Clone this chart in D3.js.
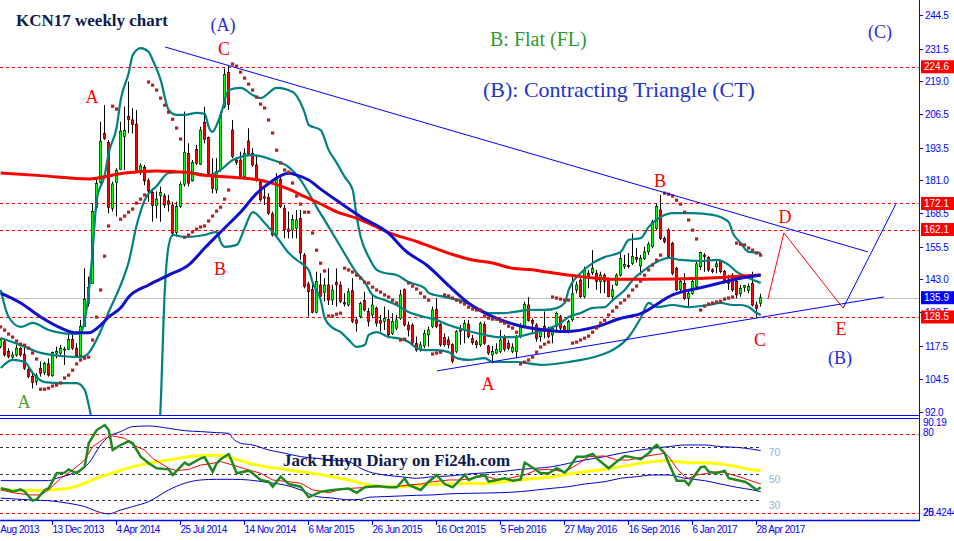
<!DOCTYPE html>
<html><head><meta charset="utf-8">
<script src="https://cdn.jsdelivr.net/npm/d3@7"></script>
<style>body{margin:0;background:#fff;}svg{display:block;}</style>
</head><body>
<svg id="c" width="954" height="541"></svg>
<script>
// ---------- DATA ----------
const opens=[117.1,119.0,115.2,113.0,113.9,116.5,114.2,108.4,105.6,103.7,
108.8,107.2,110.5,105.9,114.6,114.6,116.0,116.1,119.9,116.5,
113.6,124.8,133.8,141.4,170.6,180.1,199.0,195.5,170.2,180.1,
185.2,197.8,205.5,204.2,202.6,184.3,186.0,180.8,176.4,171.3,
175.1,175.0,173.1,171.5,160.9,170.9,179.5,191.3,180.8,192.9,
187.2,203.3,197.4,182.4,177.3,185.0,209.3,222.5,200.3,188.8,
188.8,182.4,196.1,191.4,186.9,180.2,174.7,174.5,168.1,160.0,
181.4,170.3,162.3,161.9,162.6,166.4,152.3,141.2,139.1,130.3,
140.8,137.9,140.8,135.0,141.7,140.8,134.0,133.1,138.6,127.4,
128.6,134.8,130.6,129.3,131.9,127.1,126.7,127.6,122.2,124.2,
128.0,139.1,125.4,125.4,118.4,116.1,117.4,121.6,124.8,131.5,
125.7,120.6,119.7,118.0,115.2,123.5,123.5,125.8,120.3,119.0,
117.8,125.7,117.4,113.9,114.6,115.2,120.3,118.4,115.2,115.2,
121.0,124.8,133.1,127.1,125.4,120.9,124.8,123.5,121.6,124.8,
128.6,124.8,122.9,127.4,138.9,142.7,136.3,145.3,145.5,145.3,
142.1,144.6,143.0,136.3,140.8,144.6,147.9,148.3,149.1,151.4,
148.1,151.0,153.5,155.5,162.6,169.6,158.7,161.9,156.8,147.2,
139.1,141.4,135.7,137.6,140.2,147.8,152.3,151.4,146.6,147.8,
149.8,145.9,142.7,144.6,142.1,137.6,139.9,138.6,141.4,133.1,
133.8];
const highs=[120.3,120.3,116.5,115.2,117.8,117.1,117.1,109.4,106.9,106.9,
111.4,111.4,112.6,115.2,117.1,117.8,117.1,122.2,121.6,118.4,
127.4,147.2,144.0,172.2,181.8,203.5,209.9,196.5,180.5,185.6,
203.5,209.3,218.9,208.7,208.0,187.5,186.9,181.8,177.9,176.7,
178.6,176.0,175.4,172.8,172.8,180.5,207.4,195.2,188.8,194.6,
201.6,209.3,197.8,189.5,189.5,207.4,224.0,225.0,204.2,189.5,
192.0,193.3,201.0,193.3,190.7,181.1,177.9,176.0,169.0,183.7,
183.0,171.5,169.0,167.7,169.6,169.6,153.0,142.1,142.1,145.9,
145.3,143.4,147.2,140.8,147.2,142.1,137.6,139.5,143.4,128.6,
134.4,138.2,131.9,137.0,132.5,129.3,132.5,131.2,129.9,129.3,
138.9,139.5,126.7,126.1,121.0,119.0,123.5,124.8,132.5,135.7,
126.1,122.2,121.0,118.4,123.5,125.4,127.4,127.4,121.6,119.7,
126.7,126.7,117.8,117.4,118.4,123.5,121.6,119.7,118.4,121.6,
126.1,134.4,136.1,128.0,126.1,123.5,130.6,124.8,125.1,130.6,
129.3,125.4,127.4,144.6,142.1,143.4,147.8,146.6,154.2,146.6,
145.9,145.3,143.7,140.8,145.3,153.0,152.3,153.0,160.6,154.9,
152.3,155.5,157.4,165.8,172.2,175.4,159.4,162.6,157.4,147.8,
142.7,145.3,138.9,143.4,149.8,153.6,153.0,151.9,147.2,150.4,
150.4,146.6,144.6,145.3,142.7,140.8,140.8,141.4,145.9,134.4,
137.4];
const lows=[116.5,113.3,112.6,112.4,113.3,113.3,108.2,105.0,101.1,102.4,
105.6,106.2,105.6,105.6,112.6,113.3,110.1,115.8,115.8,113.0,
112.6,124.8,132.5,141.4,169.6,179.8,196.5,168.3,169.0,167.1,
185.0,185.0,199.1,199.0,183.7,183.1,179.2,172.8,165.1,166.4,
165.1,170.3,169.0,159.4,159.4,170.3,178.6,178.6,180.5,186.9,
186.9,195.2,183.1,176.0,176.0,184.3,208.7,208.0,189.5,186.9,
181.8,181.8,190.7,186.2,180.5,172.8,171.5,167.7,159.4,159.4,
170.3,158.7,158.7,158.7,158.7,150.4,139.5,128.6,129.9,129.9,
134.4,134.4,133.1,133.1,132.5,133.8,132.5,132.5,126.1,122.9,
128.0,130.6,124.8,128.0,124.8,122.9,123.5,120.3,121.6,123.5,
127.4,124.8,121.0,117.8,115.2,115.2,116.5,117.1,124.2,124.2,
117.1,117.1,116.5,110.7,114.6,117.8,118.4,120.3,117.8,116.5,
117.1,117.8,113.9,110.7,114.3,114.6,115.2,115.8,114.6,112.6,
120.3,124.2,126.7,122.2,119.0,119.0,120.3,120.3,118.4,123.5,
123.5,122.9,122.2,126.7,137.6,135.7,135.7,139.5,144.6,138.9,
137.6,137.6,136.1,134.4,140.4,144.0,146.9,147.2,148.5,149.4,
144.6,150.4,152.3,154.9,162.0,158.1,156.8,151.0,144.6,138.5,
138.2,135.0,132.5,137.0,139.5,146.6,145.9,145.9,145.3,145.3,
145.3,141.4,138.9,138.2,135.7,136.3,138.2,137.6,132.5,128.6,
132.5];
const closes=[119.7,113.9,113.3,113.9,116.5,113.9,108.8,105.6,103.3,105.9,
106.9,110.7,106.2,114.8,115.2,116.5,116.2,119.9,116.5,113.6,
124.8,135.3,139.9,169.0,179.8,196.0,197.1,170.6,179.6,184.7,
199.9,200.1,204.4,202.5,184.3,186.5,180.8,176.9,171.3,173.8,
176.3,171.5,171.8,160.7,170.9,179.5,191.8,179.9,187.9,187.5,
200.3,196.8,183.7,177.9,184.3,206.1,221.7,210.2,190.1,187.9,
182.4,191.4,191.0,186.9,181.8,173.5,174.1,168.3,160.0,181.8,
170.9,161.9,161.3,166.0,165.8,153.0,140.2,138.2,130.3,142.1,
136.3,140.8,135.0,138.9,140.8,134.4,133.5,138.2,126.7,126.1,
133.7,131.2,126.7,133.1,126.1,126.1,128.0,121.6,126.7,127.4,
137.0,125.4,123.5,118.4,115.8,117.8,122.2,123.5,131.2,124.8,
117.8,117.8,117.8,111.4,122.9,123.0,126.1,120.9,118.6,117.8,
126.1,118.4,114.6,115.2,116.1,119.7,116.1,116.5,116.9,120.7,
124.8,133.4,127.1,126.1,120.3,122.9,122.9,121.0,124.2,129.9,
124.2,123.5,126.7,137.4,140.8,136.3,146.3,143.7,147.2,142.1,
144.6,142.1,136.3,138.9,144.6,151.0,148.6,148.0,151.7,150.7,
151.0,153.5,156.5,165.1,170.9,158.7,157.4,151.7,145.3,138.9,
142.1,135.7,137.6,142.1,148.9,153.2,151.7,146.6,145.9,148.9,
145.9,142.1,141.4,138.9,137.0,139.5,140.6,140.2,133.1,131.8,
135.9];
const sar=[124.7,123.5,122.0,120.8,119.3,118.1,117.7,116.6,114.7,112.4,
100.8,100.8,101.2,102.0,102.4,103.2,105.1,106.2,108.1,110.5,
112.0,112.7,113.1,119.7,128.5,138.9,151.9,163.5,209.5,208.4,
166.1,167.3,168.8,170.0,172.3,173.8,175.4,218.8,217.6,215.7,
212.6,209.9,207.2,204.5,201.1,196.9,159.2,160.0,161.2,162.3,
163.1,163.5,165.4,167.3,169.2,170.7,173.8,177.3,225.7,224.9,
222.6,220.3,218.0,215.7,213.0,210.3,208.8,204.2,199.2,192.6,
187.7,185.0,184.2,180.0,175.0,171.9,168.8,168.8,160.8,154.2,
149.2,146.2,128.9,128.9,129.6,130.0,147.3,146.6,145.8,144.6,
143.5,141.9,141.6,140.0,138.9,138.1,137.0,136.2,135.0,133.9,
119.7,120.0,141.6,140.4,139.3,137.7,136.2,135.0,114.3,114.7,
115.0,137.0,136.6,135.8,135.0,134.3,133.5,132.3,131.6,131.2,
131.2,128.9,128.1,127.7,127.7,126.9,126.2,125.0,124.3,122.7,
110.5,111.2,112.0,113.1,115.0,117.0,118.1,118.9,136.2,135.8,
135.4,135.0,135.0,118.5,118.9,119.7,120.4,121.2,122.7,124.3,
126.2,127.3,129.3,130.8,132.3,133.9,135.0,136.6,138.9,140.4,
142.3,144.6,146.6,148.5,150.4,152.3,176.1,175.7,175.0,173.4,
171.9,168.8,165.8,161.9,158.5,131.2,132.7,133.5,133.9,134.3,
134.6,135.4,135.8,136.2,156.9,156.5,156.2,155.0,154.2,153.1,
152.3];
// moving averages  [week index, price]
const maRed=[[0,183.8],[10,182.8],[22,181.5],[31,183.8],[39,184.6],[47,184.0],[50,183.0],[56,182.4],[61,181.8],[64,181.3],[68,179.8],[72,177.6],[76,174.7],[80,171.9],[84,168.9],[89,166.4],[93,163.8],[97,160.9],[104,157.5],[112,153.0],[118,150.4],[123,149.2],[128,147.2],[133,146.6],[136,145.9],[145,144.0],[149,143.4],[153,143.0],[161,143.0],[176,143.4],[190,144.6]];
const maBlue=[[0,137.7],[5,133.9],[10,128.5],[15,124.3],[19,122.4],[22,122.4],[25,125.4],[27,128.5],[30,132.0],[32,136.2],[37,140.8],[42,144.6],[47,148.5],[51,155.0],[56,162.7],[60,168.8],[64,176.0],[67,179.8],[72,183.7],[74,183.0],[77,181.1],[80,177.6],[85,172.2],[90,167.0],[97,160.6],[101,154.2],[107,147.8],[112,140.5],[117,133.8],[122,129.3],[129,125.4],[136,123.5],[141,122.9],[149,124.8],[155,128.0],[160,129.8],[168,137.0],[176,140.1],[185,143.4],[190,144.6]];
// Bollinger bands [week index, price]
const bbUpper=[[0,138.9],[2,128.5],[5,124.7],[8,126.2],[12,123.5],[15,122.4],[18,122.0],[20,122.4],[21,127.3],[22,137.7],[23,154.2],[24,173.4],[26,183.0],[27,191.5],[29,201.5],[30,211.9],[32,222.2],[33,229.1],[35,231.8],[37,230.3],[38,227.2],[40,219.5],[42,208.0],[44,206.1],[46,206.1],[49,206.9],[51,206.5],[52,201.5],[53,199.6],[54,202.3],[55,206.1],[57,215.7],[60,216.5],[63,213.8],[65,212.6],[69,216.5],[73,214.9],[76,206.9],[77,202.3],[80,200.3],[82,192.6],[84,187.7],[86,182.3],[88,177.3],[89,166.9],[90,159.2],[92,151.5],[94,146.6],[96,145.4],[99,144.6],[102,141.9],[106,139.6],[107,137.7],[111,136.2],[116,134.3],[120,131.2],[122,130.0],[126,130.0],[128,130.4],[133,131.2],[136,131.2],[139,131.9],[141,133.9],[142,138.9],[145,145.4],[148,149.2],[151,151.5],[155,153.5],[157,158.1],[160,158.8],[162,163.1],[165,166.9],[168,168.4],[173,168.4],[178,167.7],[182,165.0],[183,160.8],[185,156.9],[187,153.5],[190,153.1]];
const bbMid=[[0,120.4],[5,117.7],[10,114.7],[15,113.5],[20,113.1],[22,114.7],[25,123.1],[27,130.4],[30,140.8],[32,149.6],[34,163.8],[36,173.4],[39,178.8],[42,183.8],[47,184.2],[52,183.0],[55,185.0],[58,188.8],[63,190.7],[68,188.8],[72,186.1],[75,181.1],[77,176.1],[79,170.7],[82,163.1],[85,155.4],[89,145.4],[91,141.9],[93,136.9],[96,135.0],[99,133.1],[102,130.4],[106,128.5],[109,127.3],[112,125.4],[116,123.5],[121,121.6],[124,120.8],[128,120.8],[133,122.3],[136,123.5],[140,126.2],[142,128.5],[145,130.0],[148,132.0],[151,132.3],[153,135.0],[156,138.9],[158,142.7],[161,146.6],[164,149.6],[167,151.2],[170,150.4],[175,150.0],[179,150.4],[182,148.5],[184,145.8],[187,143.5],[190,141.6]];
const bbLower=[[0,108.9],[3,112.0],[6,111.2],[8,107.0],[11,103.5],[15,103.1],[19,103.1],[21,100.5],[22,94.7],[23,87.0],[25,69.7],[30,50.5],[35,45.0],[38,55.0],[40,95.0],[41,138.0],[42,156.0],[43,160.0],[46,159.2],[51,160.0],[54,161.2],[55,157.3],[56,155.4],[59,156.2],[61,162.7],[63,168.8],[66,164.6],[69,159.2],[72,153.1],[74,150.4],[77,146.6],[78,141.6],[80,135.0],[81,128.1],[83,124.3],[85,122.7],[87,119.7],[89,117.0],[91,117.7],[92,121.6],[94,122.7],[97,120.8],[99,120.4],[102,118.9],[104,116.6],[106,115.8],[109,115.8],[112,115.0],[114,112.7],[117,112.0],[121,112.7],[123,111.2],[129,111.2],[135,110.1],[142,111.2],[150,113.9],[153,115.8],[157,120.8],[160,128.1],[162,133.9],[164,132.3],[168,133.1],[172,132.3],[177,133.1],[180,133.9],[183,133.1],[185,133.1],[187,132.3],[189,130.0],[190,129.3]];
// oscillator panel [week index, value]
const rsiLine=[[0,38.9],[2,37.6],[3,36.3],[5,38.1],[6,36.3],[8,29.4],[9,30.4],[11,37.6],[12,38.9],[14,50.3],[16,50.8],[17,53.3],[19,50.3],[21,55.4],[22,73.2],[24,83.3],[26,87.1],[27,83.3],[28,68.1],[30,71.9],[32,74.9],[33,73.2],[35,63.0],[37,57.9],[39,54.1],[42,53.3],[43,49.0],[45,55.4],[46,58.4],[47,56.6],[50,61.7],[51,62.5],[53,51.5],[54,57.9],[55,61.0],[57,65.0],[58,57.9],[59,50.3],[62,52.3],[63,50.3],[65,45.2],[67,43.9],[68,40.1],[70,47.7],[72,42.1],[75,40.1],[77,32.0],[80,36.3],[83,37.6],[87,38.6],[89,35.5],[91,39.6],[94,40.6],[97,39.6],[99,39.6],[101,46.5],[102,41.4],[105,37.6],[107,43.9],[109,49.0],[111,42.1],[113,39.6],[116,49.0],[117,45.2],[119,47.7],[121,49.0],[122,43.9],[124,45.2],[126,46.5],[128,44.7],[130,45.7],[131,58.4],[132,56.6],[135,50.3],[137,50.3],[139,54.1],[141,50.8],[142,54.1],[144,63.0],[146,63.0],[148,65.0],[149,61.7],[152,54.1],[154,59.2],[156,63.5],[157,63.0],[160,61.0],[162,65.6],[163,69.4],[164,71.9],[166,65.6],[167,57.9],[169,44.7],[171,44.7],[172,41.4],[173,46.5],[175,54.9],[176,55.4],[177,51.5],[179,50.3],[181,52.3],[182,46.5],[184,45.2],[186,43.9],[187,42.1],[189,37.6],[190,39.6]];
const rsiSignal=[[0,37.6],[3,35.5],[7,33.8],[10,33.8],[12,37.6],[15,46.5],[18,52.8],[21,60.4],[23,70.6],[26,77.0],[28,78.8],[31,77.0],[33,71.9],[36,68.1],[38,61.7],[42,54.1],[44,52.3],[47,53.3],[50,56.6],[53,57.9],[55,59.2],[58,56.6],[62,52.8],[65,50.3],[68,45.2],[72,43.9],[75,42.7],[78,37.6],[82,35.5],[85,38.1],[88,38.9],[92,39.6],[95,40.1],[98,39.6],[102,41.4],[105,42.1],[108,43.9],[112,45.2],[115,45.2],[118,46.5],[121,48.2],[124,45.7],[127,46.5],[131,49.0],[134,52.8],[137,53.3],[141,51.5],[144,56.6],[147,63.0],[151,63.5],[154,60.4],[157,60.4],[161,63.0],[163,64.2],[166,65.6],[167,63.0],[169,54.1],[171,47.7],[172,46.5],[174,49.0],[177,50.3],[179,51.5],[181,50.8],[184,48.2],[187,45.2],[190,42.1]];
const rsiSlow=[[0,38.1],[5,37.1],[8,37.1],[12,37.6],[17,38.9],[21,42.7],[25,47.7],[29,51.5],[33,55.4],[37,57.9],[42,60.4],[46,62.5],[50,63.8],[54,64.0],[58,61.7],[62,57.9],[67,54.9],[71,53.3],[75,51.5],[79,49.8],[83,47.7],[87,45.2],[92,41.4],[96,40.1],[100,40.1],[104,41.1],[108,41.9],[112,42.1],[117,42.7],[121,42.6],[126,43.9],[130,45.2],[134,46.5],[138,47.7],[142,49.8],[146,51.5],[151,53.3],[155,55.4],[159,57.4],[163,59.2],[166,59.9],[169,59.2],[172,58.4],[176,58.4],[180,57.4],[184,55.4],[187,53.3],[190,52.3]];
const rsiUpper=[[0,44.7],[12,44.7],[14,46.5],[18,50.3],[22,57.9],[25,71.9],[27,78.3],[30,82.1],[33,85.9],[37,86.4],[42,84.6],[46,82.8],[50,82.1],[54,81.3],[57,80.8],[58,77.0],[60,73.2],[63,71.9],[67,68.1],[71,65.6],[75,63.0],[79,61.7],[83,60.4],[87,59.2],[90,54.1],[92,51.5],[96,49.0],[100,47.7],[104,46.5],[108,47.7],[112,48.2],[117,49.8],[125,51.5],[130,53.3],[134,54.1],[138,55.4],[142,57.9],[146,60.4],[151,63.0],[155,65.6],[159,67.6],[163,69.4],[167,70.6],[171,71.9],[176,71.9],[180,70.6],[184,70.1],[188,68.6],[190,67.6]];
const rsiLower=[[0,31.4],[8,29.9],[12,29.4],[17,27.4],[21,24.9],[25,20.3],[27,19.3],[30,22.3],[33,24.9],[37,28.7],[42,37.6],[46,42.7],[50,45.2],[54,45.7],[58,45.7],[62,45.2],[67,43.2],[71,41.4],[75,37.6],[79,32.5],[83,31.4],[87,30.1],[90,30.4],[92,32.0],[96,32.5],[100,33.0],[104,33.5],[108,33.8],[112,34.6],[117,35.0],[125,35.5],[130,36.3],[134,37.6],[138,38.9],[142,40.1],[146,42.1],[151,43.9],[155,46.5],[159,47.7],[163,49.0],[167,49.0],[171,46.5],[176,44.7],[180,42.1],[184,39.6],[188,37.6],[190,36.3]];
// wave-count lines [week index, price]
const triUpper=[[41.1,232.2],[216.8,153.5]];
const triLower=[[109.1,107.8],[220.8,136.2]];
const projRed=[[191.8,135.4],[195.8,160.8],[210.6,131.9]];
const projBlue=[[210.6,131.9],[223.8,171.9]];
// levels and axes
const levelValues=[224.6,172.1,162.1,128.5];
const lastPrice=135.9;
const priceTicks=[244.5,231.5,219.0,206.5,193.5,181.0,168.5,155.5,143.0,130.5,117.5,104.5,92.0];
const dateLabels=["23 Aug 2013","13 Dec 2013","4 Apr 2014","25 Jul 2014","14 Nov 2014","6 Mar 2015","26 Jun 2015","16 Oct 2015","5 Feb 2016","27 May 2016","16 Sep 2016","6 Jan 2017","28 Apr 2017"];
const dateIndex=[-3,13,29,45,61,77,93,109,125,141,157,173,189];
const oscLevels=[70,50,30];
const oscRedLevels=[80,20];
const oscScaleLabels=["90.19","80","25.4244","20"];

// ---------- DRAW ----------
const svg=d3.select('#c');
const XR=919, PB=415, IT=418, IB=520;
const x=d3.scaleLinear().domain([0,190]).range([0.7,760.7]);
const y=d3.scaleLinear().domain([92,244.5]).range([412,15]);
const yi=d3.scaleLinear().domain([20,90.19]).range([513,421]);
const px=i=>Math.floor(x(i));
const ry=v=>Math.round(y(v))+0.5;

svg.append('rect').attr('width',954).attr('height',541).attr('fill','#fff');
const defs=svg.append('defs');
defs.append('clipPath').attr('id','cp').append('rect').attr('x',0).attr('y',0).attr('width',XR).attr('height',PB);
defs.append('clipPath').attr('id','ci').append('rect').attr('x',0).attr('y',IT).attr('width',XR).attr('height',IB-IT);

const gP=svg.append('g').attr('clip-path','url(#cp)');
// horizontal levels
gP.selectAll('line.lvl').data(levelValues).join('line').attr('class','lvl')
 .attr('x1',0).attr('x2',XR).attr('y1',ry).attr('y2',ry)
 .attr('stroke','#ff0000').attr('stroke-width',1).attr('stroke-dasharray','3,3');
gP.append('line').attr('x1',0).attr('x2',XR).attr('y1',ry(lastPrice)).attr('y2',ry(lastPrice))
 .attr('stroke','#c0c0c0').attr('stroke-width',1);

// candles
const candles=d3.range(opens.length).map(i=>({i,o:opens[i],h:highs[i],l:lows[i],c:closes[i]}));
const cg=gP.append('g');
cg.selectAll('line').data(candles).join('line')
 .attr('x1',d=>px(d.i)+0.5).attr('x2',d=>px(d.i)+0.5)
 .attr('y1',d=>y(d.h)).attr('y2',d=>y(d.l)).attr('stroke','#000').attr('stroke-width',1);
cg.selectAll('rect').data(candles).join('rect')
 .attr('x',d=>px(d.i)-0.7).attr('width',2.4)
 .attr('y',d=>y(Math.max(d.o,d.c))).attr('height',d=>Math.max(1,Math.abs(y(d.o)-y(d.c))))
 .attr('fill',d=>d.c>=d.o?'#00ff00':'#ff0000').attr('stroke','#000').attr('stroke-width',0.6);

// lines
const lineP=d3.line().x(d=>x(d[0])).y(d=>y(d[1])).curve(d3.curveMonotoneX);
[[bbUpper,'#008080',2.2],[bbMid,'#008080',2.2],[bbLower,'#008080',2.2],[maRed,'#ff0000',3],[maBlue,'#1010c8',3]].forEach(([d,c,w])=>{
 gP.append('path').attr('d',lineP(d)).attr('fill','none').attr('stroke',c).attr('stroke-width',w);
});
// parabolic SAR
gP.selectAll('rect.sar').data(sar.map((v,i)=>({i,v}))).join('rect').attr('class','sar')
 .attr('x',d=>px(d.i)-1).attr('y',d=>y(d.v)-1.5).attr('width',3.2).attr('height',3.2).attr('fill','#b22222');

// wave lines
const lineL=d3.line().x(d=>x(d[0])).y(d=>y(d[1]));
[[triUpper,'#0000ff'],[triLower,'#0000ff'],[projRed,'#ff0000'],[projBlue,'#0000ff']].forEach(([d,c])=>{
 gP.append('path').attr('d',lineL(d)).attr('fill','none').attr('stroke',c).attr('stroke-width',1);
});

// ---------- oscillator panel ----------
const gI=svg.append('g').attr('clip-path','url(#ci)');
oscRedLevels.forEach(v=>{const yy=Math.round(yi(v))+0.5;
 gI.append('line').attr('x1',0).attr('x2',XR).attr('y1',yy).attr('y2',yy).attr('stroke','#ff0000').attr('stroke-dasharray','3,3');});
oscLevels.forEach(v=>{const yy=Math.round(yi(v))+0.5;
 gI.append('line').attr('x1',0).attr('x2',x(190)).attr('y1',yy).attr('y2',yy).attr('stroke','#333').attr('stroke-dasharray','3,3');
 svg.append('text').attr('x',x(190)+8).attr('y',yy+8).text(v).attr('font-family','Liberation Sans, Arial, sans-serif').attr('font-size',10.5).attr('fill','#8db4d6');});
const lineI=d3.line().x(d=>x(d[0])).y(d=>yi(d[1]));
const lineIS=d3.line().x(d=>x(d[0])).y(d=>yi(d[1])).curve(d3.curveMonotoneX);
gI.append('path').attr('d',lineIS(rsiUpper)).attr('fill','none').attr('stroke','#0000cd').attr('stroke-width',1);
gI.append('path').attr('d',lineIS(rsiLower)).attr('fill','none').attr('stroke','#0000cd').attr('stroke-width',1);
gI.append('path').attr('d',lineIS(rsiSlow)).attr('fill','none').attr('stroke','#ffff00').attr('stroke-width',3);
gI.append('path').attr('d',lineI(rsiSignal)).attr('fill','none').attr('stroke','#ff0000').attr('stroke-width',1);
gI.append('path').attr('d',lineI(rsiLine)).attr('fill','none').attr('stroke','#1e8a1e').attr('stroke-width',2.5);

// ---------- frames / axes ----------
const AX='#0000ff';
svg.append('line').attr('x1',0).attr('x2',XR).attr('y1',PB+0.5).attr('y2',PB+0.5).attr('stroke',AX);
svg.append('line').attr('x1',0).attr('x2',XR).attr('y1',IT+0.5).attr('y2',IT+0.5).attr('stroke',AX);
svg.append('line').attr('x1',0).attr('x2',XR+1).attr('y1',IB+0.5).attr('y2',IB+0.5).attr('stroke',AX).attr('stroke-width',1.5);
svg.append('line').attr('x1',XR+0.5).attr('x2',XR+0.5).attr('y1',0).attr('y2',IB+1).attr('stroke',AX);

const fSans='Liberation Sans, Arial, sans-serif';
const ax=svg.append('g');
priceTicks.forEach(v=>{const yy=ry(v);
 ax.append('line').attr('x1',XR+0.5).attr('x2',XR+4).attr('y1',yy).attr('y2',yy).attr('stroke',AX);
 ax.append('text').attr('x',XR+6).attr('y',yy+3.5).text(v.toFixed(1)).attr('font-family',fSans).attr('font-size',10).attr('letter-spacing',-0.3).attr('fill',AX);});
// highlighted level boxes
const boxes=levelValues.map(v=>({v,c:'#ff0000'})).concat([{v:lastPrice,c:'#0000ff'}]);
boxes.forEach(b=>{const yy=y(b.v);
 ax.append('rect').attr('x',XR+2).attr('y',yy-6.5).attr('width',954-XR-2).attr('height',13).attr('fill',b.c);
 ax.append('text').attr('x',XR+5).attr('y',yy+3.5).text(b.v.toFixed(1)).attr('font-family',fSans).attr('font-size',10).attr('fill','#fff');});
// oscillator scale labels (overlapping as in the source terminal)
const oscLabelY=[426,436,516,516];
oscScaleLabels.forEach((t,k)=>{
 ax.append('text').attr('x',XR+4).attr('y',oscLabelY[k]).text(t).attr('font-family',fSans).attr('font-size',10).attr('letter-spacing',-0.3).attr('fill',AX);});
// date axis
dateIndex.forEach((i,k)=>{const xx=px(i)+0.5;
 ax.append('line').attr('x1',xx).attr('x2',xx).attr('y1',IB).attr('y2',IB+5).attr('stroke',AX);
 ax.append('text').attr('x',xx).attr('y',533).text(dateLabels[k]).attr('font-family',fSans).attr('font-size',10).attr('letter-spacing',-0.5).attr('fill',AX);});

// ---------- annotations ----------
const fSerif='Liberation Serif, Times New Roman, serif';
function T(t,xx,yy,c,s,opt={}){
 const e=svg.append('text').attr('x',xx).attr('y',yy).text(t).attr('font-family',fSerif).attr('font-size',s).attr('fill',c)
  .attr('text-anchor',opt.anchor||'middle');
 if(opt.bold) e.attr('font-weight','bold');
 return e;}
T('KCN17 weekly chart',16,26,'#0d1b4c',17,{anchor:'start',bold:true});
T('(A)',223,31,'#2a2ae6',18);
T('C',224,55,'#ff0000',18);
T('A',92,103,'#ff0000',18);
T('B',220,275,'#ff0000',18);
T('A',24,408,'#4f9e2f',18);
T('B: Flat (FL)',490,46,'#2e9a2e',20,{anchor:'start'});
T('(B): Contracting Triangle (CT)',483,97,'#2233cc',22,{anchor:'start'});
T('(C)',880,38,'#2a2ae6',18);
T('B',660,187,'#ff0000',18);
T('D',785,223,'#ff0000',18);
T('A',488,390,'#ff0000',18);
T('E',841,335,'#ff0000',18);
T('C',760,346,'#ff0000',18);
T('(B)',840,364,'#2a2ae6',18);
T('Jack Huyn Diary on Fi24h.com',283,466,'#0d1b4c',17,{anchor:'start',bold:true});
</script>
</body></html>
